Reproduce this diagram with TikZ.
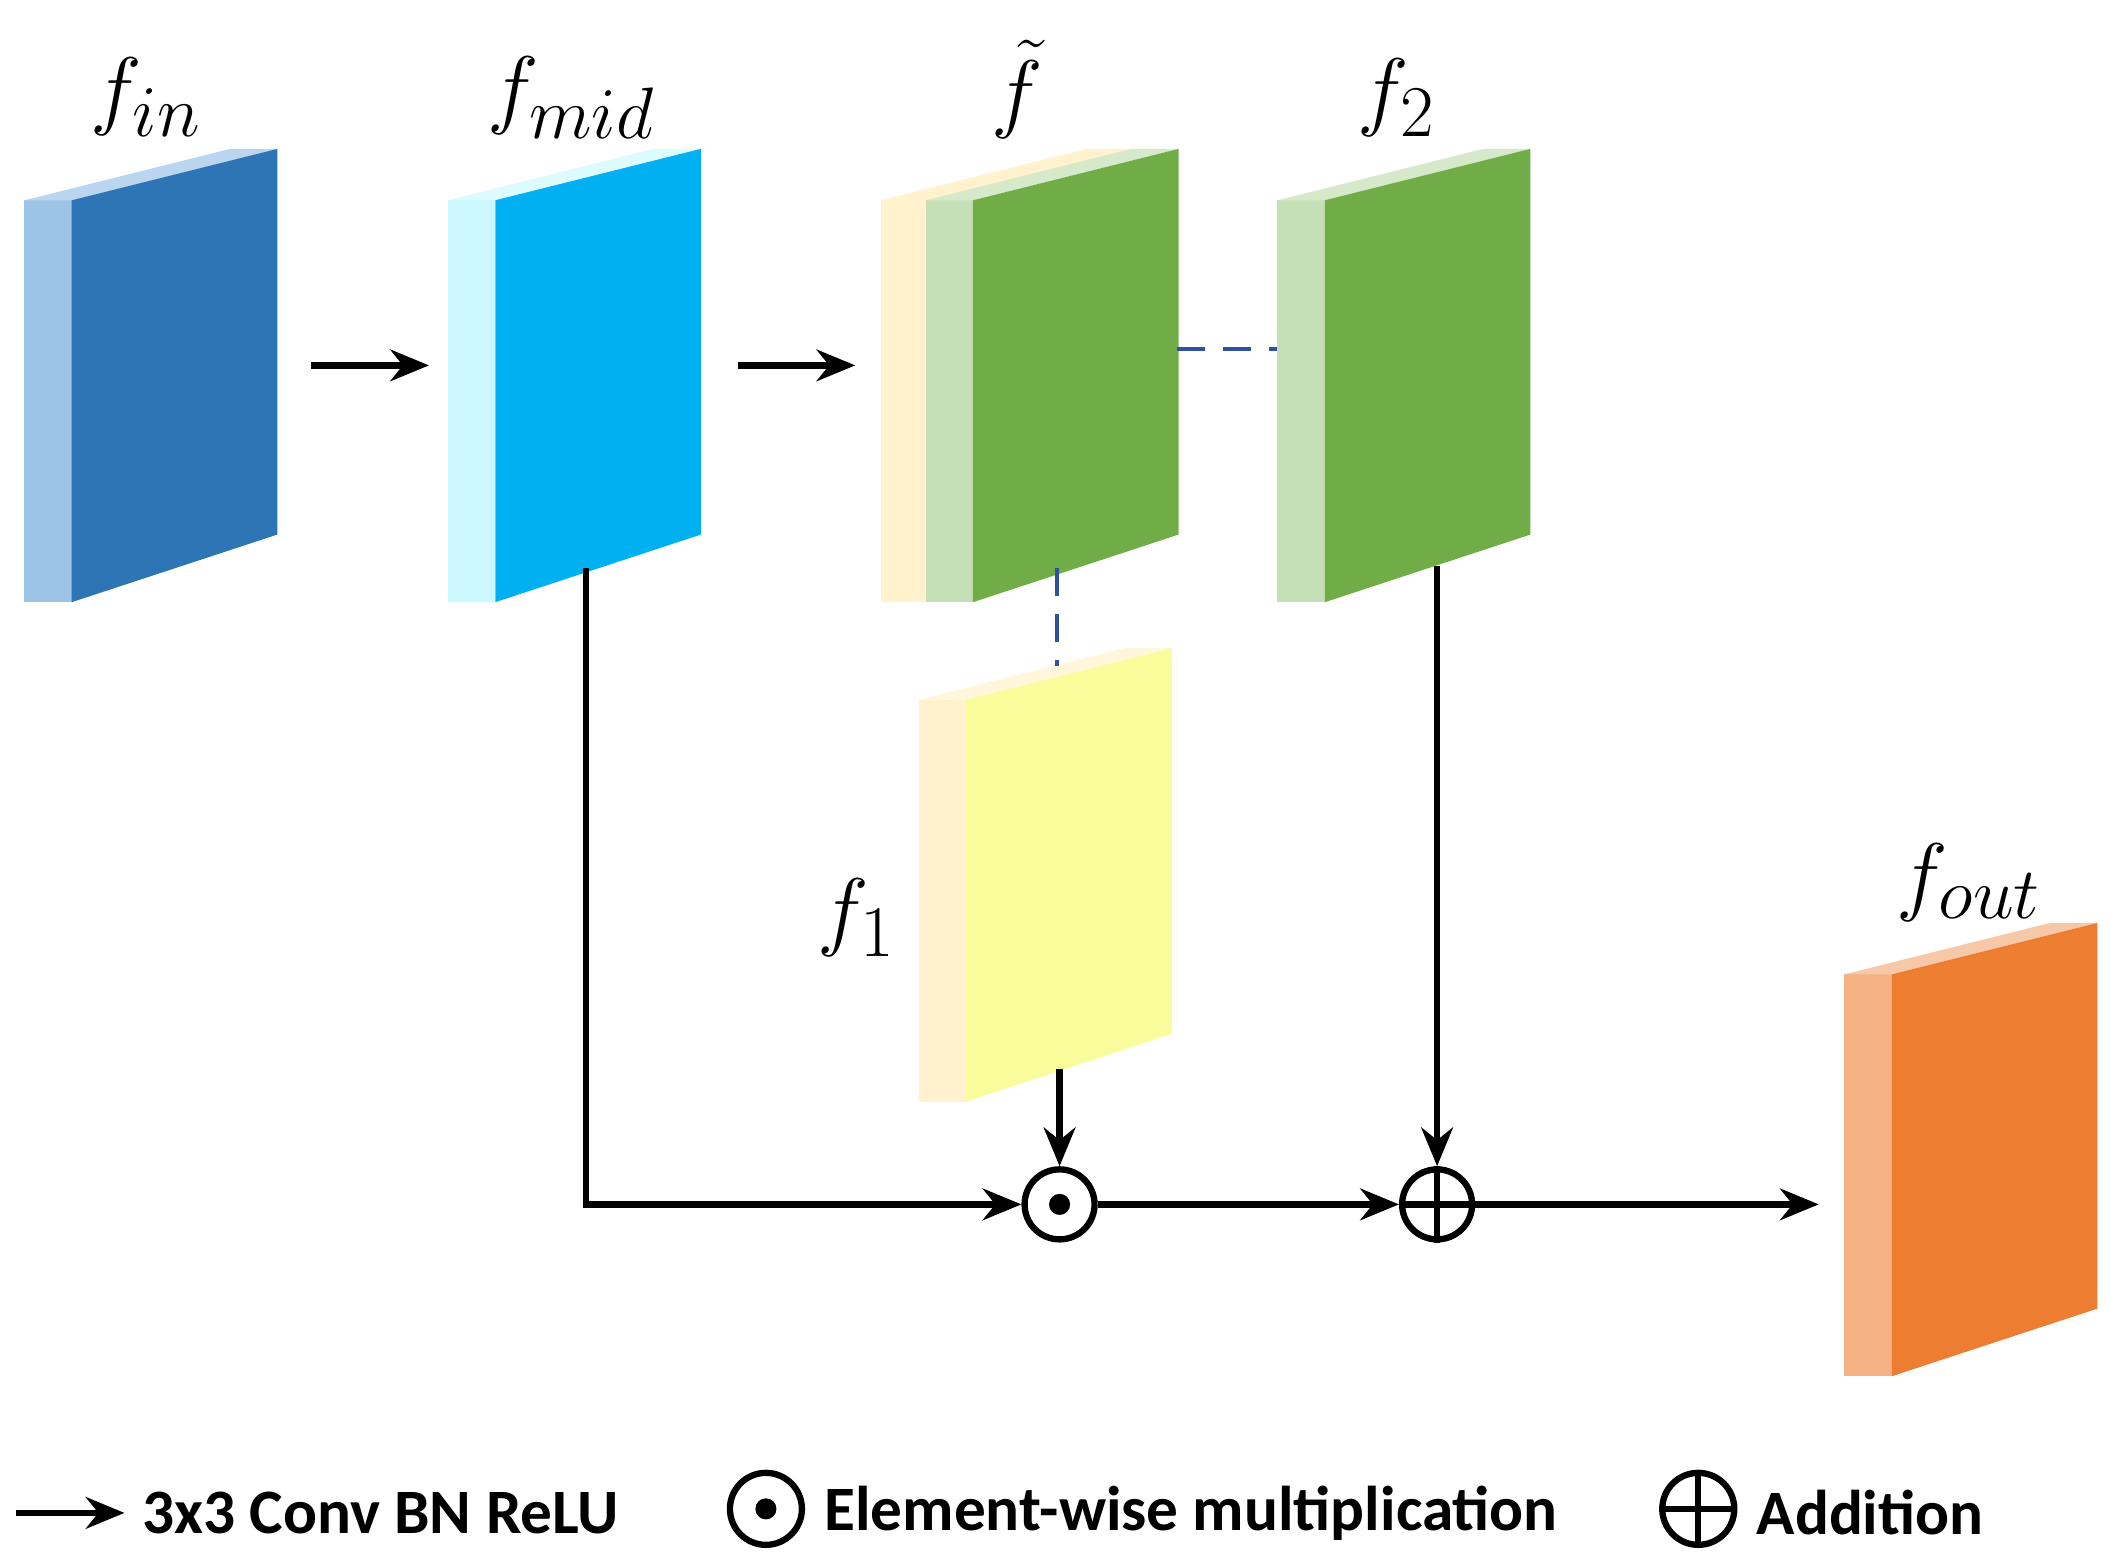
\documentclass[tikz,border=0pt]{standalone}
\usepackage{fontspec}
\newfontfamily\legendfont{Carlito}
\usetikzlibrary{calc,positioning,arrows.meta}
\definecolor{inL}{HTML}{9DC3E6}\definecolor{inD}{HTML}{2E75B6}
\definecolor{midL}{HTML}{CCF9FF}\definecolor{midD}{HTML}{00B0F0}
\definecolor{grL}{HTML}{C5E0B4}\definecolor{grD}{HTML}{70AD47}
\definecolor{yeL}{HTML}{FFF2CC}\definecolor{yeD}{HTML}{F8FC9A}
\definecolor{orL}{HTML}{F4B183}\definecolor{orD}{HTML}{ED7D31}
\definecolor{dashblue}{HTML}{2F52A0}
% block: #1 x of strip, #2 top of strip, #3 light, #4 dark
\newcommand{\featblock}[4]{
  \fill[#3] (#1,#2) rectangle ++(35,297);
  \fill[#3!70] (#1,#2) -- ++(152,-38) -- ++(35,0) -- ++(-152,38) -- cycle;
  \fill[#4] ($(#1,#2)+(35,0)$) -- ++(152,-38) -- ++(0,285) -- ++(-152,50) -- cycle;
}
\begin{document}
\begin{tikzpicture}[
    x=0.01353cm, y=-0.01353cm,
    lbl/.style={font=\fontsize{30}{36}\selectfont},
    op/.style={circle, draw, line width=1.8pt, minimum size=0.7cm, inner sep=0pt},
    arrow/.style={-{Stealth[length=11pt,width=9pt]}, line width=1.8pt},
    dashed link/.style={dash pattern=on 8pt off 5pt, dashblue, line width=1.3pt},
    legend/.style={font=\legendfont\bfseries\fontsize{18}{22}\selectfont, anchor=west},
  ]
  \useasboundingbox (0,0) rectangle (1560,1156);

  % Blocks
  \featblock{18}{148}{inL}{inD}
  \featblock{331}{148}{midL}{midD}
  \fill[yeL] (651,148) rectangle ++(35,297);
  \fill[yeL] (651,148) -- ++(152,-38) -- ++(35,0) -- ++(-152,38) -- cycle;
  \featblock{684}{148}{grL}{grD}
  \featblock{944}{148}{grL}{grD}
  \featblock{679}{517}{yeL}{yeD}
  \featblock{1363}{720}{orL}{orD}

  % Labels
  \node[lbl] (fin) at (108,72) {$f_{in}$};
  \node[lbl] (fmid) at (422,72) {$f_{mid}$};
  \node[lbl] (ftil) at (752,66) {$\tilde{f}$};
  \node[lbl] (ftwo) at (1032,72) {$f_2$};
  \node[lbl] (fone) at (633,678) {$f_1$};
  \node[lbl] (fout) at (1455,652) {$f_{out}$};

  % Operators
  \node[op] (mul) at (783,890) {};
  \fill (mul) circle (3pt);
  \node[op] (add) at (1062,890) {};
  \draw[line width=1.8pt] (add.north) -- (add.south) (add.west) -- (add.east);

  % Connectors
  \coordinate (a1s) at (230,270); \coordinate (a1e) at (317,270);
  \coordinate (a2s) at (545,270); \coordinate (a2e) at (632,270);
  \coordinate (midout) at (433,420);
  \coordinate (oneout) at (783,790);
  \coordinate (twoout) at (1062,418);
  \coordinate (outin) at (1344,890);
  \draw[arrow] (a1s) -- (a1e);
  \draw[arrow] (a2s) -- (a2e);
  \draw[arrow] (midout) |- (mul);
  \draw[arrow] (oneout) -- (mul);
  \draw[arrow] (mul) -- (add);
  \draw[arrow] (twoout) -- (add);
  \draw[arrow] (add) -- (outin);
  \draw[dashed link] (870,258) -- (944,258);
  \draw[dashed link] (781,420) -- (781,492);

  % Legend
  \coordinate (lgs) at (12,1118); \coordinate (lge) at (92,1118);
  \draw[arrow] (lgs) -- (lge);
  \node[legend] (lgconv) at (96,1118) {3x3 Conv BN ReLU};
  \node[op, minimum size=0.72cm] (lgmul) at (566,1115) {};
  \fill (lgmul) circle (3pt);
  \node[legend] (lgmultxt) at (600,1118) {Element-wise multiplication};
  \node[op, minimum size=0.72cm] (lgadd) at (1255,1115) {};
  \draw[line width=1.8pt] (lgadd.north) -- (lgadd.south) (lgadd.west) -- (lgadd.east);
  \node[legend] (lgaddtxt) at (1289,1118) {Addition};
\end{tikzpicture}
\end{document}
